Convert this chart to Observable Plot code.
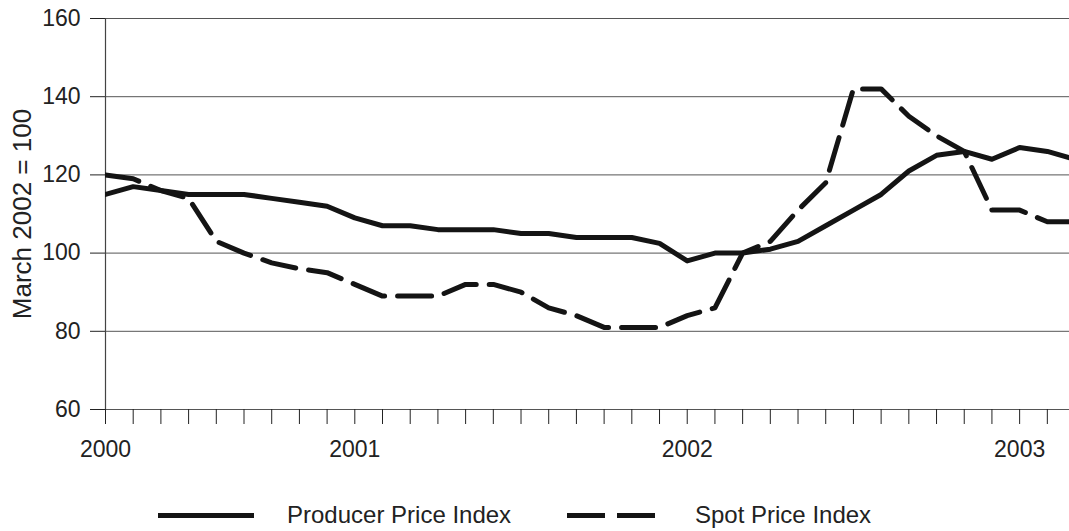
<!DOCTYPE html>
<html>
<head>
<meta charset="utf-8">
<script src="https://cdn.jsdelivr.net/npm/d3@7"></script>
<script src="https://cdn.jsdelivr.net/npm/@observablehq/plot@0.6"></script>
<style>
  html, body { margin: 0; padding: 0; background: #fff; }
  #wrap { position: relative; width: 1069px; height: 531px; font-family: "Liberation Sans", Arial, sans-serif; color: #222; }
  #legend { position: absolute; left: 0; top: 501px; width: 1069px; height: 28px; }
  .item { position: absolute; top: 0; height: 28px; line-height: 28px; font-size: 24px; white-space: nowrap; }
  .sw { position: absolute; top: 0; }
</style>
</head>
<body>
<div id="wrap">
  <div id="chart"></div>
  <div id="legend"></div>
</div>
<script>
// Monthly series, first month labelled "2000"
const producerPriceIndex = [115,117,116,115,115,115,114,113,112,109,107,107,106,106,106,105,105,104,104,104,102.5,98,100,100,101,103,107,111,115,121,125,126,124,127,126,124];
const spotPriceIndex = [120,119,116,114,103,100,97.5,96,95,92,89,89,89,92,92,90,86,84,81,81,81,84,86,100,103,111,118,142,142,135,130,126,111,111,108,108];
const yearTickMonths = [0, 9, 21, 33];
const yearTickLabels = ["2000", "2001", "2002", "2003"];
const yTicks = [60, 80, 100, 120, 140, 160];
const seriesNames = ["Producer Price Index", "Spot Price Index"];
const yTitle = "March 2002 = 100";

const toRows = arr => arr.map((v, i) => ({month: i, value: v}));
const labelAt = new Map(yearTickMonths.map((m, i) => [m, yearTickLabels[i]]));
const monthTicks = d3.range(0, 35);

const chart = Plot.plot({
  width: 1069,
  height: 480,
  marginLeft: 105,
  marginRight: 0,
  marginTop: 18,
  marginBottom: 71,
  style: {fontFamily: "'Liberation Sans', Arial, sans-serif", fontSize: "23px", color: "#222", background: "white", overflow: "visible"},
  x: {domain: [0, 34.8]},
  y: {domain: [60, 160]},
  marks: [
    Plot.gridY(yTicks, {stroke: "#555", strokeOpacity: 1, strokeWidth: 1}),
    Plot.ruleX([0], {stroke: "#444", strokeWidth: 1.2}),
    Plot.axisY(yTicks, {tickSize: 15, tickPadding: 10, fontSize: 23, label: null}),
    Plot.axisY({ticks: [], tickSize: 0, fontSize: 26, label: yTitle, labelAnchor: "center", labelArrow: "none", labelOffset: 93}),
    Plot.axisX(monthTicks, {tickSize: 15, tickPadding: 16, fontSize: 23, label: null, tickFormat: d => labelAt.get(d) ?? ""}),
    Plot.line(toRows(spotPriceIndex), {x: "month", y: "value", stroke: "#141414", strokeWidth: 5, strokeDasharray: "34,13", strokeLinejoin: "round", clip: true}),
    Plot.line(toRows(producerPriceIndex), {x: "month", y: "value", stroke: "#141414", strokeWidth: 5, strokeLinejoin: "round", clip: true})
  ]
});
document.getElementById("chart").appendChild(chart);

// Legend below the chart
const legend = document.getElementById("legend");
function addItem(swLeft, swWidth, dash, textLeft, text) {
  const ns = "http://www.w3.org/2000/svg";
  const svg = document.createElementNS(ns, "svg");
  svg.setAttribute("width", swWidth);
  svg.setAttribute("height", 28);
  svg.setAttribute("class", "sw");
  svg.style.left = swLeft + "px";
  const ln = document.createElementNS(ns, "line");
  ln.setAttribute("x1", 0); ln.setAttribute("x2", swWidth);
  ln.setAttribute("y1", 14.5); ln.setAttribute("y2", 14.5);
  ln.setAttribute("stroke", "#141414");
  ln.setAttribute("stroke-width", 5);
  if (dash) ln.setAttribute("stroke-dasharray", dash);
  svg.appendChild(ln);
  legend.appendChild(svg);
  const t = document.createElement("div");
  t.className = "item";
  t.style.left = textLeft + "px";
  t.textContent = text;
  legend.appendChild(t);
}
addItem(158, 96, null, 287, seriesNames[0]);
addItem(567, 88, "38,12", 695, seriesNames[1]);
</script>
</body>
</html>
